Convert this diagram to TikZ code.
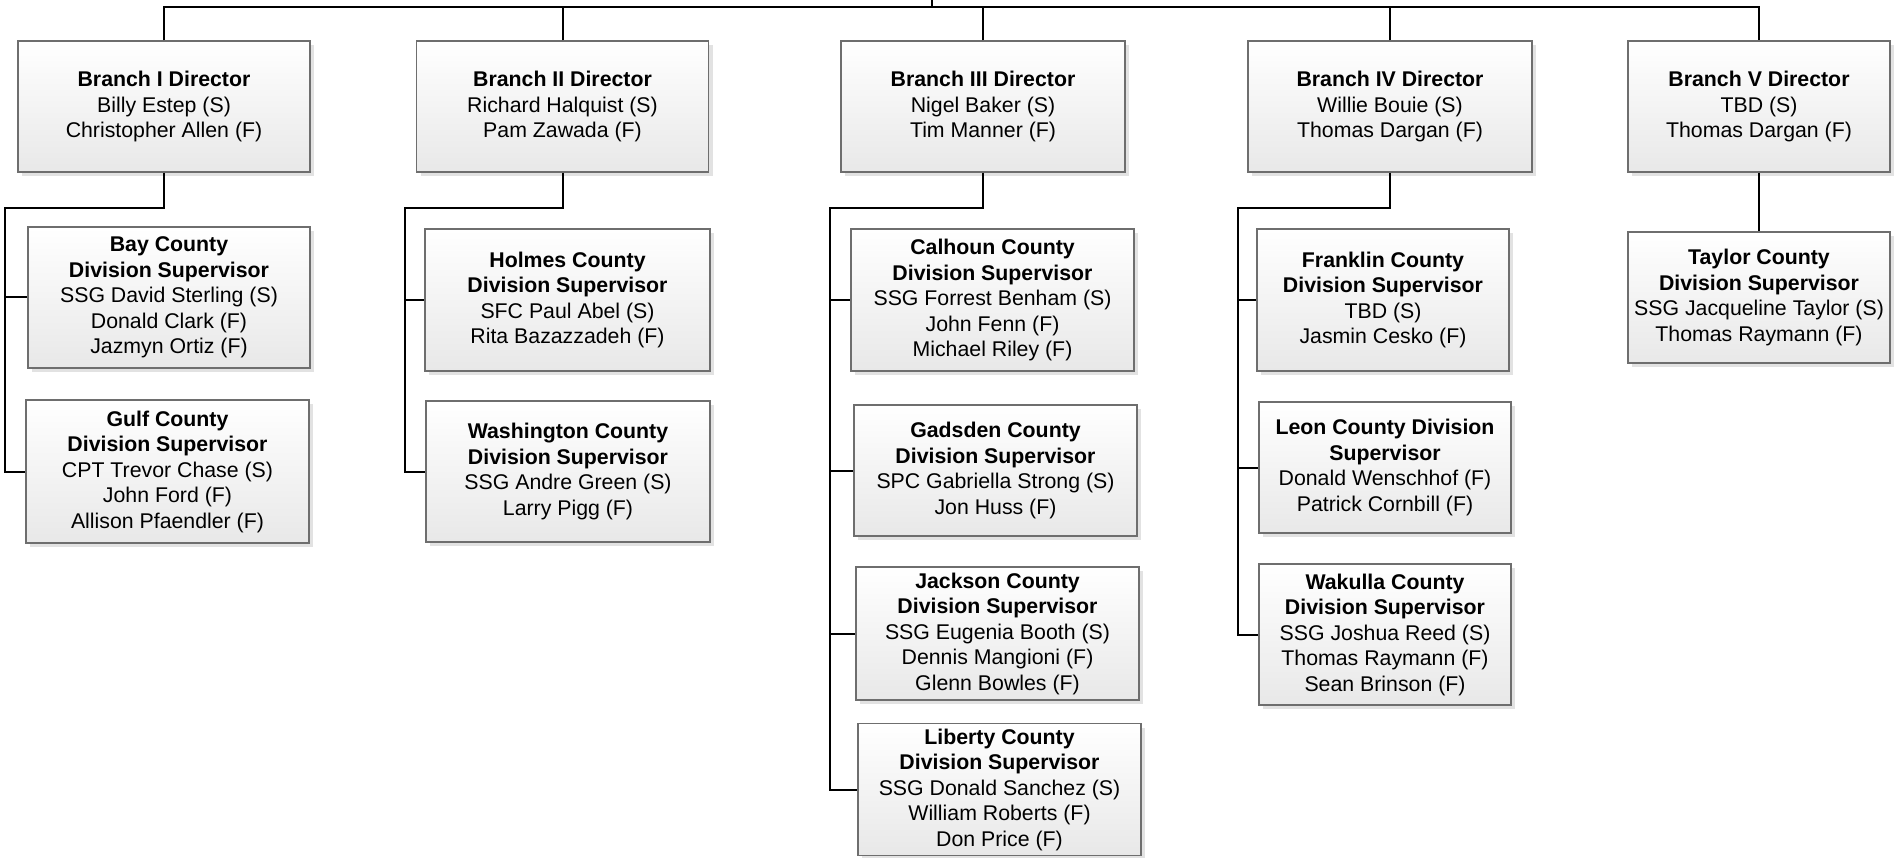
\documentclass[tikz,border=0pt]{standalone}
\usepackage{fontspec}
\setmainfont{Liberation Sans}
\usetikzlibrary{shadows}
\definecolor{boxline}{HTML}{6E6E6E}
\definecolor{boxbot}{HTML}{E8E8E8}
\definecolor{shadowc}{HTML}{E2E2E2}
\tikzset{
  orgbox/.style={draw=boxline, line width=1.1pt, top color=white, bottom color=boxbot,
    align=center, inner sep=0pt, font=\fontsize{21.3}{25.5}\selectfont,
    drop shadow={shadow xshift=4pt, shadow yshift=-4pt, fill=shadowc, opacity=1}},
  link/.style={draw=black, line width=2pt}
}
\begin{document}
\begin{tikzpicture}[x=1pt,y=-1pt]
\useasboundingbox (0,0) rectangle (1902,858);
% Branch directors
\node[orgbox, minimum width=292pt, minimum height=131pt] (b1) at (164,106.5) {\textbf{Branch I Director}\\Billy Estep (S)\\Christopher Allen (F)};
\node[orgbox, minimum width=292pt, minimum height=131pt] (b2) at (562.5,106.5) {\textbf{Branch II Director}\\Richard Halquist (S)\\Pam Zawada (F)};
\node[orgbox, minimum width=284pt, minimum height=131pt] (b3) at (983,106.5) {\textbf{Branch III Director}\\Nigel Baker (S)\\Tim Manner (F)};
\node[orgbox, minimum width=284pt, minimum height=131pt] (b4) at (1390,106.5) {\textbf{Branch IV Director}\\Willie Bouie (S)\\Thomas Dargan (F)};
\node[orgbox, minimum width=262pt, minimum height=131pt] (b5) at (1759,106.5) {\textbf{Branch V Director}\\TBD (S)\\Thomas Dargan (F)};
% Branch I
\node[orgbox, minimum width=282pt, minimum height=141pt] (bay) at (169,297.5) {\textbf{Bay County}\\\textbf{Division Supervisor}\\SSG David Sterling (S)\\Donald Clark (F)\\Jazmyn Ortiz (F)};
\node[orgbox, minimum width=283pt, minimum height=143pt] (gulf) at (167.5,471.5) {\textbf{Gulf County}\\\textbf{Division Supervisor}\\CPT Trevor Chase (S)\\John Ford (F)\\Allison Pfaendler (F)};
% Branch II
\node[orgbox, minimum width=285pt, minimum height=142pt] (holmes) at (567.5,300) {\textbf{Holmes County}\\\textbf{Division Supervisor}\\SFC Paul Abel (S)\\Rita Bazazzadeh (F)};
\node[orgbox, minimum width=284pt, minimum height=141pt] (wash) at (568,471.5) {\textbf{Washington County}\\\textbf{Division Supervisor}\\SSG Andre Green (S)\\Larry Pigg (F)};
% Branch III
\node[orgbox, minimum width=283pt, minimum height=142pt] (calhoun) at (992.5,300) {\textbf{Calhoun County}\\\textbf{Division Supervisor}\\SSG Forrest Benham (S)\\John Fenn (F)\\Michael Riley (F)};
\node[orgbox, minimum width=283pt, minimum height=131pt] (gadsden) at (995.5,470.5) {\textbf{Gadsden County}\\\textbf{Division Supervisor}\\SPC Gabriella Strong (S)\\Jon Huss (F)};
\node[orgbox, minimum width=283pt, minimum height=133pt] (jackson) at (997.5,633.5) {\textbf{Jackson County}\\\textbf{Division Supervisor}\\SSG Eugenia Booth (S)\\Dennis Mangioni (F)\\Glenn Bowles (F)};
\node[orgbox, minimum width=283pt, minimum height=132pt] (liberty) at (999.5,789.5) {\textbf{Liberty County}\\\textbf{Division Supervisor}\\SSG Donald Sanchez (S)\\William Roberts (F)\\Don Price (F)};
% Branch IV
\node[orgbox, minimum width=252pt, minimum height=142pt] (franklin) at (1383,300) {\textbf{Franklin County}\\\textbf{Division Supervisor}\\TBD (S)\\Jasmin Cesko (F)};
\node[orgbox, minimum width=252pt, minimum height=131pt] (leon) at (1385,467.5) {\textbf{Leon County Division}\\\textbf{Supervisor}\\Donald Wenschhof (F)\\Patrick Cornbill (F)};
\node[orgbox, minimum width=252pt, minimum height=141pt] (wakulla) at (1385,634.5) {\textbf{Wakulla County}\\\textbf{Division Supervisor}\\SSG Joshua Reed (S)\\Thomas Raymann (F)\\Sean Brinson (F)};
% Branch V
\node[orgbox, minimum width=262pt, minimum height=131pt] (taylor) at (1759,297.5) {\textbf{Taylor County}\\\textbf{Division Supervisor}\\SSG Jacqueline Taylor (S)\\Thomas Raymann (F)};
% top connectors
\coordinate (top) at (932,0);
\coordinate (hub) at (932,7);
\draw[link] (b1.north) |- (hub) -| (b5.north);
\draw[link] (top) -- (hub);
\draw[link] (b2.north) -- (b2.north |- hub);
\draw[link] (b3.north) -- (b3.north |- hub);
\draw[link] (b4.north) -- (b4.north |- hub);
% branch buses
\coordinate (j1) at (4.5,208);
\coordinate (j2) at (405,208);
\coordinate (j3) at (829.5,208);
\coordinate (j4) at (1238,208);
\draw[link] (b1.south) |- (j1) |- (bay.west);
\draw[link] (j1) |- (gulf.west);
\draw[link] (b2.south) |- (j2) |- (holmes.west);
\draw[link] (j2) |- (wash.west);
\draw[link] (b3.south) |- (j3) |- (calhoun.west);
\draw[link] (j3) |- (gadsden.west);
\draw[link] (j3) |- (jackson.west);
\draw[link] (j3) |- (liberty.west);
\draw[link] (b4.south) |- (j4) |- (franklin.west);
\draw[link] (j4) |- (leon.west);
\draw[link] (j4) |- (wakulla.west);
\draw[link] (b5.south) -- (taylor.north);
\end{tikzpicture}
\end{document}
